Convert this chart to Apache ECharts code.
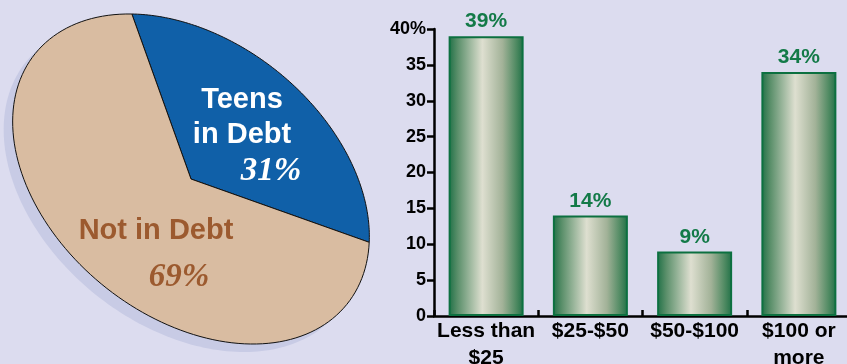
<!DOCTYPE html>
<html>
<head>
<meta charset="utf-8">
<script src="https://cdn.jsdelivr.net/npm/echarts@6/dist/echarts.min.js"></script>
<style>
html,body{margin:0;padding:0;background:#dcdcef;overflow:hidden;}
#chart{width:847px;height:364px;}
</style>
</head>
<body>
<div id="chart"></div>
<script>
// ---- Data ----
const pieCategories = ['Teens in Debt', 'Not in Debt'];
const pieLabelLines = [['Teens', 'in Debt'], ['Not in Debt']];
const pieValues = [31, 69];
const barCategories = ['Less than\n$25', '$25-$50', '$50-$100', '$100 or\nmore'];
const barValues = [39, 14, 9, 34];
const yTickLabels = ['0', '5', '10', '15', '20', '25', '30', '35', '40%'];

// ---- Pie (tilted ellipse) geometry ----
const PCX = 191, PCY = 179, RA = 200, RB = 138;
const ROT = 38.7 * Math.PI / 180;
const START = -138.3 * Math.PI / 180;
const pieColors = ['#1060a8', '#d9bca1'];
const pieTotal = pieValues.reduce((s, v) => s + v, 0);

function ellPoint(t, dx, dy) {
  const u = RA * Math.cos(t), v = RB * Math.sin(t);
  return [PCX + (dx || 0) + u * Math.cos(ROT) - v * Math.sin(ROT),
          PCY + (dy || 0) + u * Math.sin(ROT) + v * Math.cos(ROT)];
}

function renderSlice(params, api) {
  const i = params.dataIndex;
  let before = 0;
  for (let k = 0; k < i; k++) before += pieValues[k];
  const val = api.value(0);
  const a0 = START + before / pieTotal * Math.PI * 2;
  const a1 = a0 + val / pieTotal * Math.PI * 2;
  const pts = [[PCX, PCY]];
  const N = 120;
  for (let k = 0; k <= N; k++) pts.push(ellPoint(a0 + (a1 - a0) * k / N));
  return {
    type: 'polygon',
    shape: { points: pts },
    style: { fill: pieColors[i], stroke: '#111', lineWidth: 1, lineJoin: 'round' }
  };
}

function renderShadow(params, api) {
  const pts = [];
  for (let k = 0; k < 240; k++) pts.push(ellPoint(k / 240 * Math.PI * 2, -9, 8));
  return { type: 'polygon', shape: { points: pts }, style: { fill: '#c8cbe5' } };
}

const SANS = '"Liberation Sans", Arial, sans-serif';
const SERIF = '"Liberation Serif", "Times New Roman", serif';

const chart = echarts.init(document.getElementById('chart'), null, { renderer: 'canvas' });

function txt(text, x, y, fill, font) {
  return {
    type: 'text', z: 10, silent: true, x: x, y: y,
    style: { text: text, textAlign: 'center', textVerticalAlign: 'middle', fill: fill, font: font }
  };
}

const option = {
  backgroundColor: '#dcdcef',
  animation: false,
  grid: { left: 434, top: 29, width: 417, height: 287, containLabel: false, outerBoundsMode: 'none' },
  xAxis: {
    type: 'category',
    data: barCategories,
    axisLine: { lineStyle: { color: '#000', width: 2.5 } },
    axisTick: { show: true, inside: true, length: 6, lineStyle: { color: '#000', width: 2.5 } },
    axisLabel: {
      interval: 0, color: '#000', fontWeight: 'bold', fontSize: 21,
      fontFamily: SANS, lineHeight: 27, margin: 2
    }
  },
  yAxis: {
    type: 'value', min: 0, max: 40, interval: 5,
    splitLine: { show: false },
    axisLine: { show: true, lineStyle: { color: '#000', width: 2.5 } },
    axisTick: { show: true, length: 7, lineStyle: { color: '#000', width: 2.5 } },
    axisLabel: {
      formatter: (v) => yTickLabels[Math.round(v / 5)],
      color: '#000', fontWeight: 'bold', fontSize: 18,
      fontFamily: SANS, margin: 8
    }
  },
  series: [
    {
      type: 'custom', coordinateSystem: 'none', silent: true, z: 1,
      data: [1], renderItem: renderShadow
    },
    {
      type: 'custom', coordinateSystem: 'none', silent: true, z: 2,
      data: pieValues.map((v, i) => ({ name: pieCategories[i], value: [v] })),
      renderItem: renderSlice
    },
    {
      type: 'bar',
      data: barValues,
      barWidth: 75,
      z: 3,
      itemStyle: {
        borderColor: '#0c7040', borderWidth: 2,
        color: new echarts.graphic.LinearGradient(0, 0, 1, 0, [
          { offset: 0, color: '#1f7046' },
          { offset: 0.12, color: '#5a8f6a' },
          { offset: 0.45, color: '#dedfd0' },
          { offset: 0.72, color: '#a2b298' },
          { offset: 0.9, color: '#4f8a62' },
          { offset: 1, color: '#1f7046' }
        ])
      },
      label: {
        show: true, position: 'top', distance: 4,
        formatter: (p) => p.value + '%',
        color: '#137a48', fontWeight: 'bold', fontSize: 21,
        fontFamily: SANS
      }
    }
  ],
  graphic: [
    txt(pieLabelLines[0][0], 242, 100, '#fff', 'bold 29px ' + SANS),
    txt(pieLabelLines[0][1], 242, 135, '#fff', 'bold 29px ' + SANS),
    txt(pieValues[0] + '%', 271, 171, '#fff', 'italic bold 33px ' + SERIF),
    txt(pieLabelLines[1][0], 156, 231, '#9c5a2f', 'bold 29px ' + SANS),
    txt(pieValues[1] + '%', 179, 277, '#9c5a2f', 'italic bold 33px ' + SERIF)
  ]
};
chart.setOption(option);
</script>
</body>
</html>
